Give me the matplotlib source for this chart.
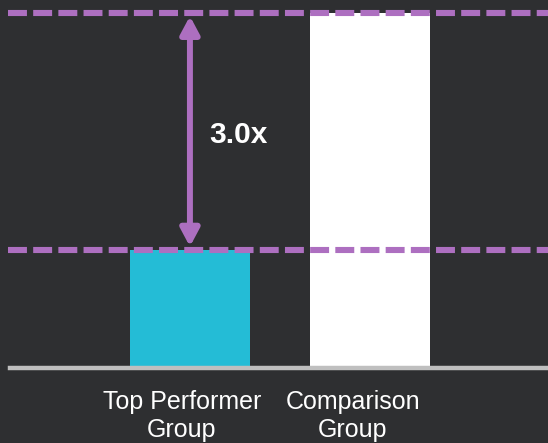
import matplotlib.pyplot as plt
from matplotlib.patches import FancyArrowPatch
from matplotlib.transforms import ScaledTranslation

# Data
groups = ['Top Performer\nGroup', 'Comparison\nGroup']
values = [1.0, 3.0]
bar_colors = ['#24bcd6', '#ffffff']

bg = '#2e2f31'
purple = '#ad6fc0'
grey = '#bfbfbf'

plt.rcParams['font.family'] = ['Liberation Sans', 'DejaVu Sans']

fig = plt.figure(figsize=(5.48, 4.43), dpi=100)
fig.patch.set_facecolor(bg)
ax = fig.add_axes([10 / 548, 75 / 443, 538 / 548, 368 / 443])
ax.set_facecolor(bg)

x = list(range(len(groups)))
ax.bar(x, values, width=0.667, color=bar_colors, zorder=2)

# reference lines at each bar top
for v in values:
    ax.axhline(v, xmin=-0.004, xmax=1, color=purple, lw=4.4,
               linestyle=(0, (3.1, 1.02)), clip_on=False, zorder=3)

# double-headed arrow between the two levels
arrow = FancyArrowPatch((x[0], values[0]), (x[0], values[1]),
                        arrowstyle='<|-|>,head_length=10.5,head_width=5.6',
                        mutation_scale=1, color=purple, lw=4.3,
                        joinstyle='round', shrinkA=2.2, shrinkB=2.2, zorder=4)
ax.add_patch(arrow)

ratio = values[1] / values[0]
ax.text(x[0] + 0.11, (values[0] + values[1]) / 2 - 0.03, f'{ratio:.1f}x',
        color='white', fontsize=21.5, fontweight='bold', ha='left', va='center')

ax.set_xlim(-1.0, 1.99)
ax.set_ylim(0, 3.11)
ax.set_yticks([])
ax.set_xticks(x)
ax.set_xticklabels(groups, fontsize=18, color='white', linespacing=1.25)
ax.tick_params(axis='x', length=0, pad=15.5)
for lab, dx in zip(ax.get_xticklabels(), [-8, -17]):
    lab.set_transform(lab.get_transform() + ScaledTranslation(dx / 100, 0, fig.dpi_scale_trans))

for s in ['top', 'right', 'left']:
    ax.spines[s].set_visible(False)
ax.spines['bottom'].set_color(grey)
ax.spines['bottom'].set_linewidth(3.2)
ax.spines['bottom'].set_zorder(3)

fig.savefig('out.png', dpi=100, facecolor=bg)
